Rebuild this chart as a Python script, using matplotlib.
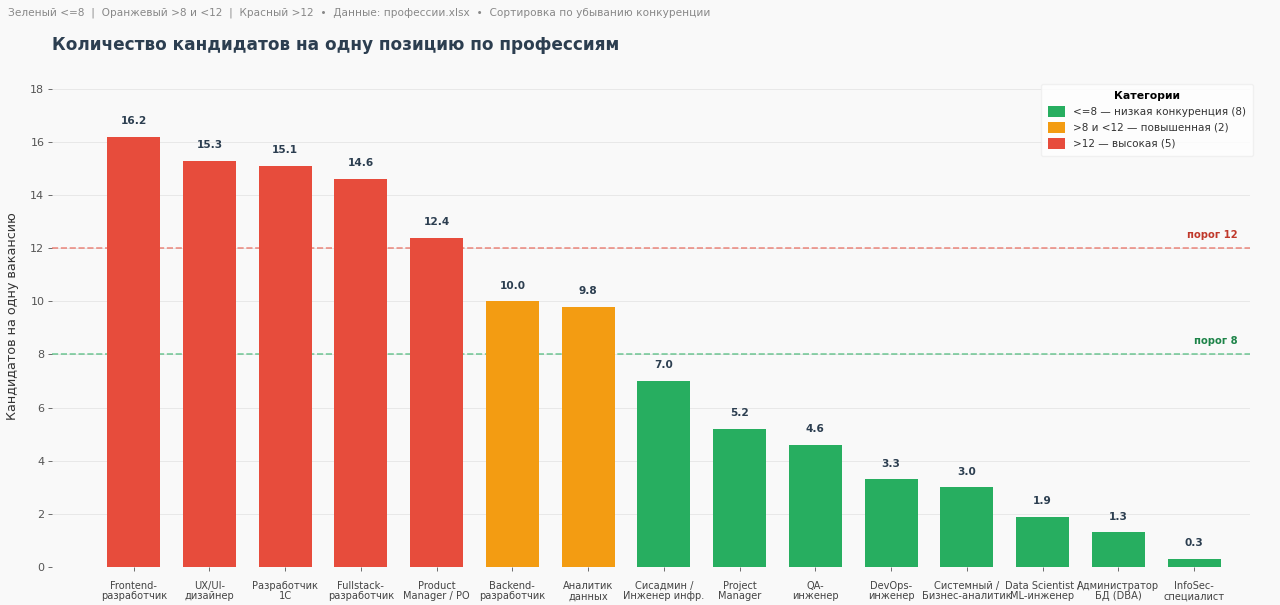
import matplotlib
matplotlib.use("Agg")
import matplotlib.pyplot as plt
from matplotlib.patches import Patch

# ---------------------------------------------------------------------------
# Data
# ---------------------------------------------------------------------------
professions = [
    "Frontend-\nразработчик", "UX/UI-\nдизайнер", "Разработчик\n1С",
    "Fullstack-\nразработчик", "Product\nManager / PO", "Backend-\nразработчик",
    "Аналитик\nданных", "Сисадмин /\nИнженер инфр.", "Project\nManager",
    "QA-\nинженер", "DevOps-\nинженер", "Системный /\nБизнес-аналитик",
    "Data Scientist /\nML-инженер", "Администратор\nБД (DBA)", "InfoSec-\nспециалист",
]
candidates = [16.2, 15.3, 15.1, 14.6, 12.4, 10.0, 9.8, 7.0, 5.2, 4.6, 3.3, 3.0, 1.9, 1.3, 0.3]
thresholds = [8, 12]

GREEN = "#27ae60"
ORANGE = "#f39c12"
RED = "#e74c3c"
DARK = "#2c3e50"
BG = "#f9f9f9"


def bar_color(v):
    if v <= 8:
        return GREEN
    if v < 12:
        return ORANGE
    return RED


colors = [bar_color(v) for v in candidates]
n_green = sum(c == GREEN for c in colors)
n_orange = sum(c == ORANGE for c in colors)
n_red = sum(c == RED for c in colors)

# ---------------------------------------------------------------------------
# Figure
# ---------------------------------------------------------------------------
fig = plt.figure(figsize=(12.8, 6.05), dpi=100, facecolor=BG)
ax = fig.add_axes([0.0406, 0.0628, 0.936, 0.830], facecolor=BG)

x = list(range(len(candidates)))
bars = ax.bar(x, candidates, width=0.7, color=colors, zorder=3)

for xi, v in zip(x, candidates):
    ax.text(xi, v + 0.4, f"{v:.1f}", ha="center", va="bottom",
            fontsize=7.6, fontweight="bold", color=DARK, zorder=4)

# threshold lines
ax.axhline(12, color=RED, linestyle="--", linewidth=1.2, alpha=0.6, zorder=2)
ax.axhline(8, color=GREEN, linestyle="--", linewidth=1.2, alpha=0.6, zorder=2)
ax.text(14.58, 12.3, "порог 12", ha="right", va="bottom", fontsize=7.2,
        fontweight="bold", color="#c0392b")
ax.text(14.58, 8.3, "порог 8", ha="right", va="bottom", fontsize=7.2,
        fontweight="bold", color="#1e8449")

ax.set_xlim(-1.08, 14.74)
ax.set_ylim(0, 18.9)
ax.set_yticks(range(0, 19, 2))
ax.set_xticks(x)
ax.set_xticklabels(professions, fontsize=7.1, color="#444444", linespacing=1.05)
ax.tick_params(axis="y", labelsize=8, colors="#555555", length=3, width=0.6, pad=2.5)
ax.tick_params(axis="x", length=3, width=0.6, colors="#555555", pad=7)
for lbl in ax.get_xticklabels():
    lbl.set_color("#444444")

ax.grid(axis="y", color="#e8e8e8", linewidth=0.7, zorder=0)
for s in ax.spines.values():
    s.set_visible(False)

ax.set_ylabel("Кандидатов на одну вакансию", fontsize=9.2, color="#333333", labelpad=8)

legend_handles = [
    Patch(facecolor=GREEN, label=f"<=8 — низкая конкуренция ({n_green})"),
    Patch(facecolor=ORANGE, label=f">8 и <12 — повышенная ({n_orange})"),
    Patch(facecolor=RED, label=f">12 — высокая ({n_red})"),
]
leg = ax.legend(handles=legend_handles, title="Категории", loc="upper right",
                bbox_to_anchor=(1.007, 0.972), fontsize=7.5, title_fontsize=7.8,
                frameon=True, facecolor="white", edgecolor="#eeeeee",
                handlelength=1.6, handleheight=1.25, borderpad=0.7,
                labelspacing=0.45, handletextpad=0.8)
leg.get_title().set_fontweight("bold")
for t in leg.get_texts():
    t.set_color("#333333")

fig.text(0.041, 0.925, "Количество кандидатов на одну позицию по профессиям",
         fontsize=12.2, fontweight="bold", color=DARK, va="center")
fig.text(0.006, 0.979,
         "Зеленый <=8  |  Оранжевый >8 и <12  |  Красный >12  •  "
         "Данные: профессии.xlsx  •  Сортировка по убыванию конкуренции",
         fontsize=7.6, color="#888888", va="center")

fig.savefig("out.png", dpi=100, facecolor=BG)
